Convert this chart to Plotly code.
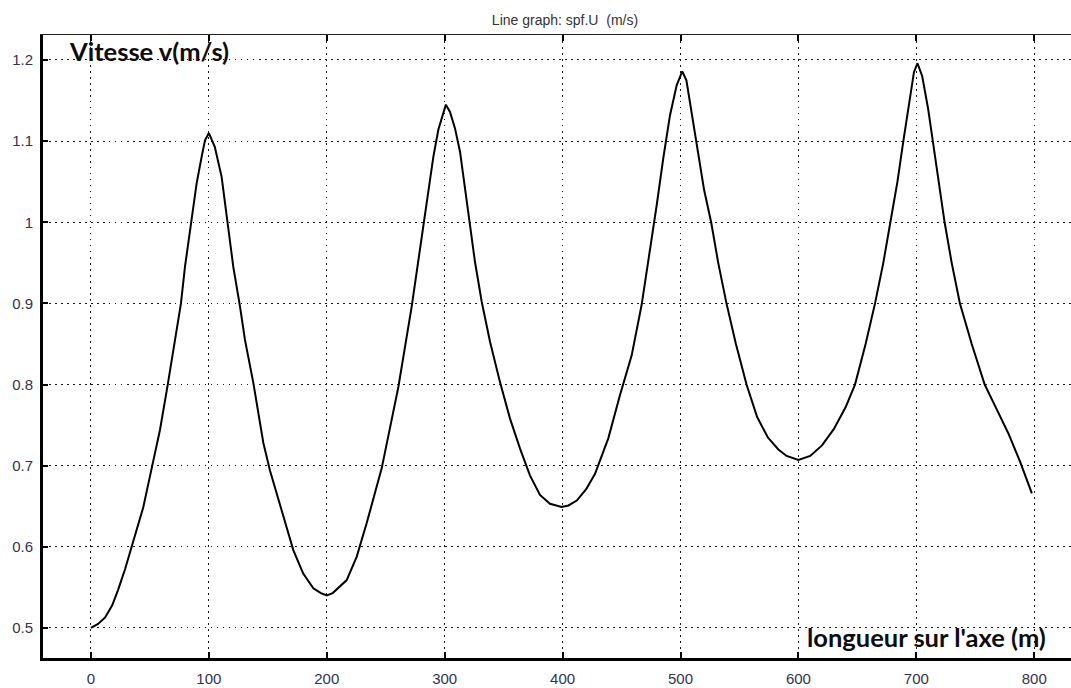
import plotly.graph_objects as go

# Position along the axis (m) and velocity magnitude spf.U (m/s)
position = [
    0, 6, 12, 18, 23, 29, 34.5, 40, 44.4, 51.5, 58.5, 65, 71.2, 76.3, 79.7, 85.4, 89.6, 93.9, 96.7, 100,
    105, 110.8, 115, 120.7, 126.4, 130.6, 137.7, 146.2, 151.8, 161.7, 171.6, 180, 188.6, 195, 200,
    205, 209.6, 216.9, 225.4, 233.8, 246.6, 260.7, 272, 281.9, 290.4, 294.6, 298.8, 301,
    304.5, 308.7, 313, 317.2, 321.5, 325.7, 331.4, 338.4, 346.9, 355.4, 363.9, 372.3, 380.8, 389.3, 399.2,
    405, 412, 420, 427.5, 438.8, 448.7, 458.6, 467, 474.1, 479.8, 485.4, 491.1, 496.8, 501.5,
    505, 510, 515, 520, 526, 532, 539, 547, 556, 565, 574, 583, 590, 600,
    610, 620, 630, 640, 648, 657, 665, 672, 678, 684, 689, 694, 698, 701,
    705, 710, 715, 720, 724, 730, 737, 747, 758, 768, 778, 788, 798,
]
velocity = [
    0.500, 0.505, 0.513, 0.528, 0.547, 0.573, 0.600, 0.627, 0.649, 0.697, 0.744, 0.799, 0.855, 0.900, 0.945, 1.003, 1.048, 1.081, 1.101, 1.110,
    1.093, 1.056, 1.007, 0.945, 0.896, 0.855, 0.802, 0.728, 0.694, 0.645, 0.596, 0.567, 0.549, 0.543, 0.540,
    0.543, 0.549, 0.559, 0.588, 0.629, 0.697, 0.797, 0.896, 0.999, 1.081, 1.114, 1.134, 1.145,
    1.136, 1.116, 1.087, 1.042, 0.993, 0.951, 0.902, 0.853, 0.803, 0.758, 0.721, 0.688, 0.664, 0.653, 0.649,
    0.651, 0.657, 0.671, 0.690, 0.734, 0.787, 0.836, 0.898, 0.964, 1.021, 1.079, 1.132, 1.169, 1.186,
    1.175, 1.130, 1.080, 1.040, 1.000, 0.950, 0.900, 0.850, 0.800, 0.760, 0.735, 0.720, 0.712, 0.707,
    0.712, 0.725, 0.745, 0.772, 0.800, 0.850, 0.900, 0.950, 1.000, 1.050, 1.100, 1.150, 1.185, 1.196,
    1.180, 1.140, 1.090, 1.040, 1.000, 0.950, 0.900, 0.850, 0.800, 0.770, 0.740, 0.705, 0.666,
]

x_ticks = [0, 100, 200, 300, 400, 500, 600, 700, 800]
y_ticks = [0.5, 0.6, 0.7, 0.8, 0.9, 1.0, 1.1, 1.2]

title_text = "Line graph: spf.U  (m/s)"
y_label = "Vitesse v(m/s)"
x_label = "longueur sur l'axe (m)"

tick_font = dict(family="Liberation Sans, Arial, sans-serif", size=15, color="#34324f")
grid_dash = "1.5px,4.5px"

fig = go.Figure()
fig.add_trace(go.Scatter(
    x=position, y=velocity, mode="lines",
    line=dict(color="#000000", width=2, shape="linear"),
    showlegend=False, hoverinfo="x+y",
))
# thin frame line with inward ticks along the top edge
fig.add_trace(go.Scatter(x=[None], y=[None], xaxis="x2", showlegend=False))

fig.update_layout(
    width=1071, height=688,
    margin=dict(l=43, r=0, t=35, b=30),
    paper_bgcolor="white", plot_bgcolor="white",
    title=dict(text=title_text, x=565 / 1071, xanchor="center", y=0.971, yanchor="middle",
               font=dict(family="Liberation Sans, Arial, sans-serif", size=14, color="#333333")),
    xaxis=dict(
        range=[-40.7, 831.2], tickvals=x_ticks, ticktext=[str(v) for v in x_ticks],
        showline=True, linecolor="#000000", linewidth=3,
        ticks="inside", ticklen=6, tickwidth=1.5, tickcolor="#000000",
        showgrid=True, gridcolor="#1a1a1a", gridwidth=1.3, griddash=grid_dash,
        zeroline=False, tickfont=tick_font, ticklabelstandoff=5,
    ),
    xaxis2=dict(
        overlaying="x", matches="x", side="top", range=[-40.7, 831.2], tickvals=x_ticks,
        showticklabels=False, showline=True, linecolor="#222222", linewidth=1.2,
        ticks="inside", ticklen=6, tickwidth=1.5, tickcolor="#000000",
        showgrid=False, zeroline=False,
    ),
    yaxis=dict(
        range=[0.463, 1.2308], tickvals=y_ticks, ticktext=["0.5", "0.6", "0.7", "0.8", "0.9", "1", "1.1", "1.2"],
        showline=True, linecolor="#000000", linewidth=3,
        ticks="inside", ticklen=5, tickwidth=1.5, tickcolor="#000000",
        showgrid=True, gridcolor="#1a1a1a", gridwidth=1.3, griddash=grid_dash,
        zeroline=False, tickfont=tick_font, ticklabelstandoff=4,
    ),
    annotations=[
        dict(text=y_label, x=-20, y=1.2105, xref="x", yref="y", xanchor="left", yanchor="middle",
             showarrow=False, font=dict(family="Lato, sans-serif", size=25.5, color="#0d0d0d", weight="bold")),
        dict(text=x_label, x=606, y=0.4895, xref="x", yref="y", xanchor="left", yanchor="middle",
             showarrow=False, font=dict(family="Lato, sans-serif", size=25.5, color="#0d0d0d", weight="bold")),
    ],
)

fig.write_html("out.html")
